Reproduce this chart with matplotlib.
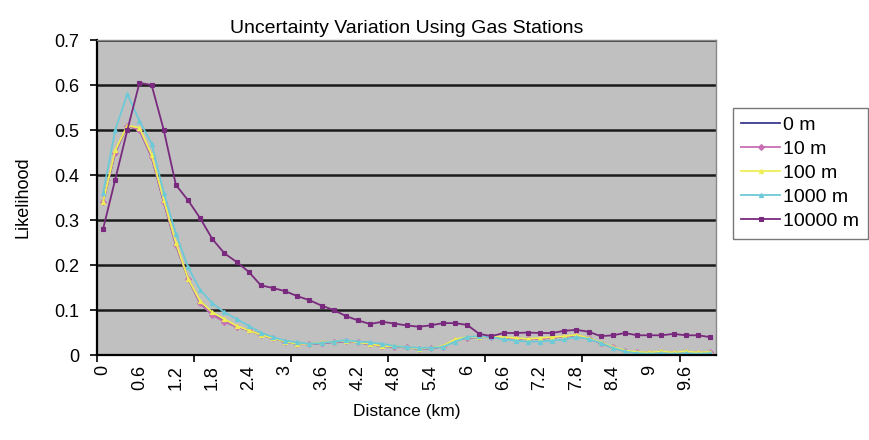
import matplotlib
matplotlib.use('Agg')
import matplotlib.pyplot as plt

plt.rcParams['font.family'] = ['Liberation Sans', 'DejaVu Sans']

# distance categories (km), step 0.2
distances = [0.0, 0.2, 0.4, 0.6, 0.8, 1.0, 1.2, 1.4, 1.6, 1.8,
             2.0, 2.2, 2.4, 2.6, 2.8, 3.0, 3.2, 3.4, 3.6, 3.8,
             4.0, 4.2, 4.4, 4.6, 4.8, 5.0, 5.2, 5.4, 5.6, 5.8,
             6.0, 6.2, 6.4, 6.6, 6.8, 7.0, 7.2, 7.4, 7.6, 7.8,
             8.0, 8.2, 8.4, 8.6, 8.8, 9.0, 9.2, 9.4, 9.6, 9.8, 10.0]

lik_0m = [0.34, 0.45, 0.51, 0.50, 0.44, 0.34, 0.245, 0.17, 0.115, 0.09,
          0.075, 0.063, 0.055, 0.045, 0.038, 0.03, 0.025, 0.024, 0.027, 0.029,
          0.031, 0.028, 0.024, 0.02, 0.019, 0.017, 0.014, 0.015, 0.019, 0.033,
          0.039, 0.04, 0.041, 0.039, 0.037, 0.035, 0.036, 0.039, 0.041, 0.044,
          0.037, 0.027, 0.017, 0.009, 0.006, 0.005, 0.007, 0.005, 0.007, 0.005, 0.006]

lik_10m = [0.34, 0.45, 0.51, 0.50, 0.44, 0.34, 0.245, 0.17, 0.115, 0.089,
           0.074, 0.063, 0.055, 0.045, 0.037, 0.03, 0.025, 0.024, 0.027, 0.029,
           0.031, 0.028, 0.024, 0.02, 0.019, 0.017, 0.014, 0.015, 0.019, 0.033,
           0.039, 0.04, 0.041, 0.039, 0.037, 0.035, 0.036, 0.039, 0.041, 0.044,
           0.037, 0.027, 0.017, 0.009, 0.006, 0.005, 0.007, 0.005, 0.007, 0.005, 0.006]

lik_100m = [0.34, 0.455, 0.51, 0.505, 0.445, 0.345, 0.25, 0.17, 0.12, 0.095,
            0.08, 0.065, 0.055, 0.045, 0.038, 0.03, 0.025, 0.025, 0.028, 0.03,
            0.032, 0.028, 0.025, 0.02, 0.02, 0.018, 0.014, 0.016, 0.02, 0.035,
            0.04, 0.04, 0.042, 0.04, 0.038, 0.036, 0.038, 0.04, 0.042, 0.045,
            0.038, 0.028, 0.018, 0.01, 0.007, 0.006, 0.008, 0.006, 0.008, 0.006, 0.007]

lik_1000m = [0.36, 0.50, 0.58, 0.52, 0.47, 0.36, 0.27, 0.195, 0.145, 0.115,
             0.095, 0.08, 0.065, 0.05, 0.04, 0.032, 0.028, 0.025, 0.027, 0.03,
             0.033, 0.03, 0.028, 0.025, 0.02, 0.018, 0.016, 0.016, 0.018, 0.03,
             0.04, 0.042, 0.04, 0.035, 0.032, 0.03, 0.03, 0.032, 0.035, 0.04,
             0.036, 0.027, 0.016, 0.008, 0.004, 0.003, 0.004, 0.003, 0.004, 0.003, 0.004]

lik_10000m = [0.28, 0.39, 0.50, 0.605, 0.60, 0.50, 0.378, 0.344, 0.304, 0.258,
              0.226, 0.207, 0.185, 0.155, 0.149, 0.142, 0.131, 0.122, 0.11, 0.10,
              0.087, 0.077, 0.069, 0.074, 0.07, 0.066, 0.063, 0.066, 0.071, 0.071,
              0.067, 0.047, 0.042, 0.049, 0.049, 0.05, 0.049, 0.049, 0.054, 0.056,
              0.052, 0.042, 0.044, 0.049, 0.044, 0.044, 0.044, 0.047, 0.044, 0.044, 0.04]

series_names = ['0 m', '10 m', '100 m', '1000 m', '10000 m']
series_vals = [lik_0m, lik_10m, lik_100m, lik_1000m, lik_10000m]
series_colors = ['#3a3a8c', '#c86eb4', '#eeee55', '#6ccad8', '#7a2a7e']
series_markers = [None, 'D', '^', '^', 's']

x_labels = ['0', '0.6', '1.2', '1.8', '2.4', '3', '3.6', '4.2', '4.8',
            '5.4', '6', '6.6', '7.2', '7.8', '8.4', '9', '9.6']

fig = plt.figure(figsize=(8.7, 4.4), dpi=100)
ax = fig.add_axes([0.1115, 0.193, 0.7115, 0.716])
ax.set_facecolor('#c0c0c0')

for name, vals, col, mk in zip(series_names, series_vals, series_colors, series_markers):
    ax.plot(distances, vals, color=col, lw=1.3, marker=mk, ms=3,
            markeredgewidth=0.8, label=name)

ax.set_xlim(-0.1, 10.1)
ax.set_ylim(0, 0.7)
ax.set_yticks([0, 0.1, 0.2, 0.3, 0.4, 0.5, 0.6, 0.7])
ax.set_yticklabels(['0', '0.1', '0.2', '0.3', '0.4', '0.5', '0.6', '0.7'], fontsize=13)
ax.yaxis.grid(True, color='#1a1a1a', lw=1.8)
ax.set_axisbelow(True)

ax.set_xticks([float(s) for s in x_labels])
ax.set_xticklabels(x_labels, rotation=90, fontsize=13)
ax.tick_params(axis='x', which='major', length=0, pad=7)
ax.set_xticks([-0.1 + 1.6 * k for k in range(7)], minor=True)
ax.tick_params(axis='x', which='minor', length=5, color='black', width=1.2)
ax.tick_params(axis='y', length=5, width=1.2, color='black', pad=8)

for s in ['left', 'bottom']:
    ax.spines[s].set_color('black')
    ax.spines[s].set_linewidth(1.6)
for s in ['top', 'right']:
    ax.spines[s].set_color('#888888')
    ax.spines[s].set_linewidth(1.0)

ax.set_title('Uncertainty Variation Using Gas Stations', fontsize=14, pad=5)
ax.set_xlabel('Distance (km)', fontsize=12.5, labelpad=10)
ax.set_ylabel('Likelihood', fontsize=13, labelpad=16)

leg = fig.legend(loc='center left', bbox_to_anchor=(0.842, 0.606), fontsize=14,
                 frameon=True, fancybox=False, edgecolor='#555555',
                 handlelength=2.0, handletextpad=0.15, labelspacing=0.33,
                 borderpad=0.45, borderaxespad=0)
leg.get_frame().set_linewidth(1.0)

fig.savefig('out.png', dpi=100)
